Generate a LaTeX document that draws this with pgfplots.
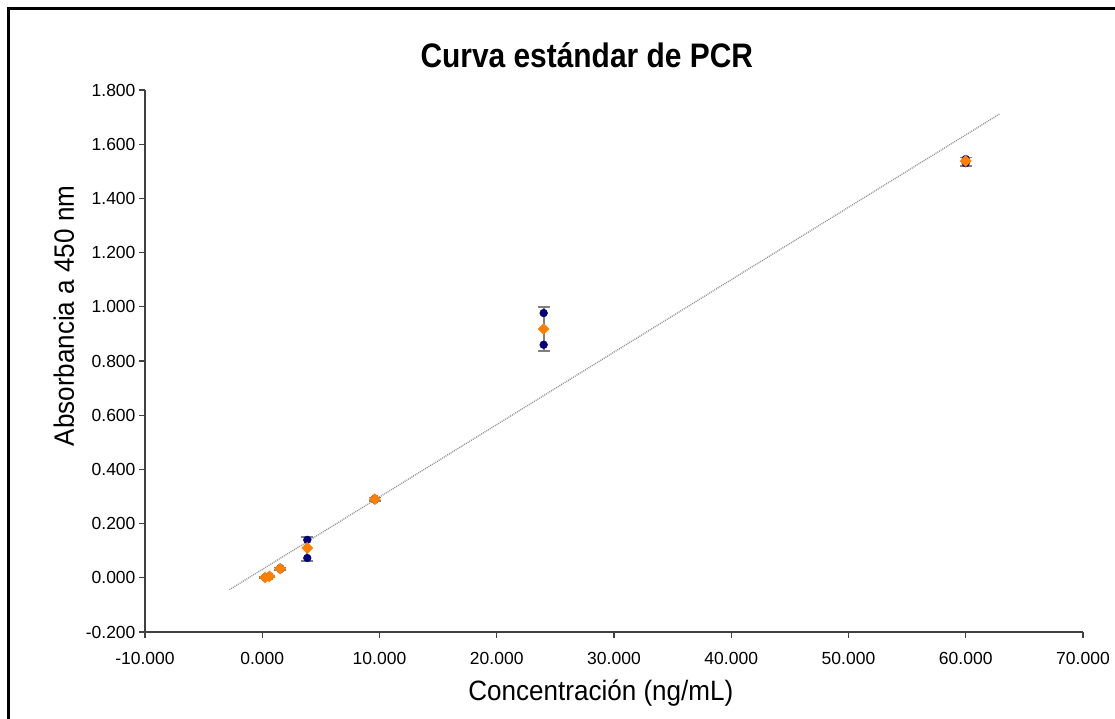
\documentclass[border=0pt]{standalone}
\usepackage{fontspec}
\setmainfont{Liberation Sans}
\newfontfamily\titlefont[FakeStretch=0.88]{Liberation Sans}
\newfontfamily\labelfont[FakeStretch=0.93]{Liberation Sans}
\usepackage{pgfplots}
\pgfplotsset{compat=1.18}
\definecolor{navy}{HTML}{000080}
\definecolor{exorange}{HTML}{FF8000}
\definecolor{axisgray}{HTML}{404040}

\begin{document}
\begin{tikzpicture}
\path[use as bounding box] (0pt,0pt) rectangle (1115pt,719pt);
% frame of the chart area (cut on the right and bottom)
\draw[line width=3pt] (8.5pt,0pt) -- (8.5pt,710.5pt) -- (1115pt,710.5pt);
\begin{axis}[
    at={(145pt,87pt)}, anchor=south west,
    scale only axis, width=938pt, height=542pt,
    xmin=-10, xmax=70, ymin=-0.2, ymax=1.8,
    xtick distance=10, ytick distance=0.2,
    axis x line*=bottom, axis y line*=left,
    axis line style={axisgray, line width=1.5pt, -},
    tick align=outside, major tick length=6pt,
    tick style={axisgray, line width=1.2pt},
    tick label style={font=\fontsize{17.5}{17.5}\selectfont},
    xticklabel style={yshift=-11pt, /pgf/number format/.cd, fixed, fixed zerofill, precision=3, assume math mode=true},
    yticklabel style={/pgf/number format/.cd, fixed, fixed zerofill, precision=3, assume math mode=true},
    title={Curva estándar de PCR},
    title style={at={(axis description cs:0.471,1.0406)}, anchor=base, yshift=-6pt,
        font=\titlefont\bfseries\fontsize{34}{34}\selectfont},
    xlabel={Concentración (ng/mL)},
    xlabel style={at={(axis description cs:0.486,-0.1273)}, anchor=base,
        font=\labelfont\fontsize{28}{28}\selectfont},
    ylabel={Absorbancia a 450 nm},
    ylabel style={at={(axis description cs:-0.0757,0.583)}, anchor=base,
        font=\labelfont\fontsize{28}{28}\selectfont},
    clip=false,
]
% linear trend line
\addplot[gray!85, line width=1.3pt, dash pattern=on 1pt off 1pt] coordinates {
    (-2.8,-0.044) (62.9,1.712)
};
% error bars (standard deviation)
\addplot[gray, only marks, mark=none, forget plot,
    error bars/.cd, y dir=both, y explicit, error mark=|,
    error bar style={gray, line width=1.8pt},
    error mark options={gray, line width=1.8pt, mark size=6pt}]
    coordinates {
    (0.246,0.001) +- (0,0.002)
    (0.614,0.005) +- (0,0.003)
    (1.536,0.034) +- (0,0.004)
    (3.84,0.107) +- (0,0.044)
    (9.6,0.290) +- (0,0.006)
    (24,0.918) +- (0,0.080)
    (60,1.536) +- (0,0.015)
};
% replicates
\addplot[only marks, mark=*, mark size=3.9pt, mark options={draw=navy, fill=navy}] coordinates {
    (0.246,0.002) (0.246,0.000)
    (0.614,0.006) (0.614,0.004)
    (1.536,0.036) (1.536,0.032)
    (3.84,0.140) (3.84,0.073)
    (9.6,0.292) (9.6,0.288)
    (24,0.977) (24,0.860)
    (60,1.545) (60,1.530)
};
% means
\addplot[only marks, mark=square*, mark size=3.9pt, mark options={draw=exorange, fill=exorange, rotate=45}] coordinates {
    (0.246,0.001) (0.614,0.005) (1.536,0.034) (3.84,0.110)
    (9.6,0.290) (24,0.918) (60,1.538)
};
\end{axis}
\end{tikzpicture}
\end{document}
